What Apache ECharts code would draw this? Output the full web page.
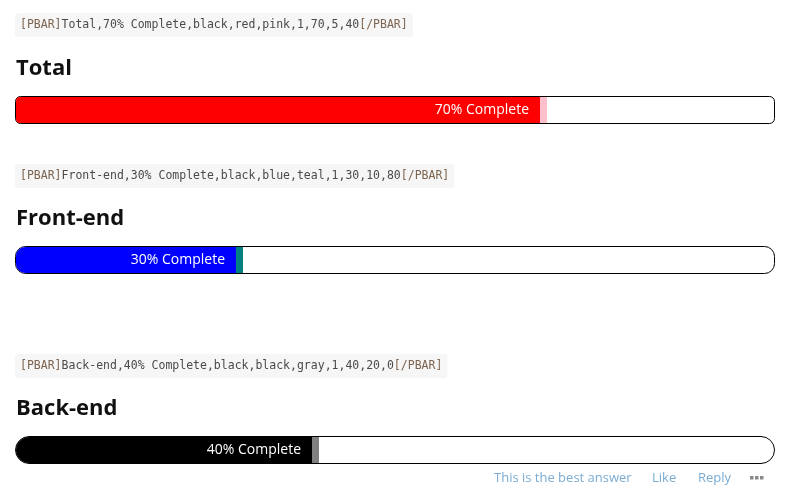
<!DOCTYPE html>
<html><head><meta charset="utf-8">
<script src="https://cdn.jsdelivr.net/npm/echarts@6/dist/echarts.min.js"></script>
<style>html,body{margin:0;padding:0;background:#fff}#c{width:789px;height:497px}</style>
</head><body><div id="c"></div>
<script>
const barNames = ['Total', 'Front-end', 'Back-end'];
const codeTexts = [
  '[PBAR]Total,70% Complete,black,red,pink,1,70,5,40[/PBAR]',
  '[PBAR]Front-end,30% Complete,black,blue,teal,1,30,10,80[/PBAR]',
  '[PBAR]Back-end,40% Complete,black,black,gray,1,40,20,0[/PBAR]'
];
const percents = [70, 30, 40];
const barLabels = ['70% Complete', '30% Complete', '40% Complete'];
const fillColors = ['red', 'blue', 'black'];
const capColors = ['pink', 'teal', 'gray'];
const cornerRadii = [5, 10, 20];
const footerLinks = ['This is the best answer', 'Like', 'Reply'];

const gridTops = [96, 246, 436];
const codeTops = [13, 164, 354];
const headTops = [58, 208, 398];
const CAP = 7;

const chart = echarts.init(document.getElementById('c'), null, {renderer: 'canvas'});

function codeRich(s) {
  const m = s.match(/^(\[PBAR\])(.*)(\[\/PBAR\])$/);
  return '{t|' + m[1] + '}{b|' + m[2] + '}{t|' + m[3] + '}';
}
const codeStyle = {fontFamily: 'DejaVu Sans Mono', fontSize: 11.5, fontWeight: 'normal'};

const titles = [];
barNames.forEach((n, i) => {
  titles.push({
    text: codeRich(codeTexts[i]), left: 15, top: codeTops[i],
    backgroundColor: '#f6f6f6', borderRadius: 3, padding: [6, 5, 6, 5],
    textStyle: {fontWeight: 'normal', rich: {
      t: Object.assign({color: '#7d6450'}, codeStyle),
      b: Object.assign({color: '#4a4a4a'}, codeStyle)
    }}
  });
  titles.push({
    text: n, left: 16, top: headTops[i], padding: 0,
    textStyle: {fontFamily: 'Open Sans', fontWeight: 'bold', fontSize: 22, color: '#111'}
  });
});

const grids = [], xAxes = [], yAxes = [], series = [];
barNames.forEach((n, i) => {
  grids.push({left: 15, right: 14, top: gridTops[i], height: 28});
  xAxes.push({type: 'value', min: 0, max: 100, gridIndex: i, show: false});
  yAxes.push({type: 'category', data: [n], gridIndex: i, show: false});
  series.push({
    type: 'custom', xAxisIndex: i, yAxisIndex: i,
    data: [[percents[i], 0]],
    renderItem: function (params, api) {
      const x0 = api.coord([0, 0])[0];
      const x100 = api.coord([100, 0])[0];
      const xv = api.coord([api.value(0), 0])[0];
      const yc = api.coord([0, 0])[1];
      const h = api.size([0, 1])[1];
      const top = yc - h / 2;
      const r = Math.min(cornerRadii[i], h / 2);
      const ri = Math.max(r - 1, 0);
      return {
        type: 'group',
        children: [
          {type: 'rect', shape: {x: x0 + 0.5, y: top + 0.5, width: x100 - x0 - 1, height: h - 1, r: r},
           style: {fill: '#fff', stroke: '#000', lineWidth: 1}},
          {type: 'rect', shape: {x: x0 + 1, y: top + 1, width: xv - x0 - 1 - CAP, height: h - 2, r: [ri, 0, 0, ri]},
           style: {fill: fillColors[i]}},
          {type: 'rect', shape: {x: xv - CAP, y: top + 1, width: CAP, height: h - 2},
           style: {fill: capColors[i]}},
          {type: 'text', x: xv - CAP - 11, y: yc,
           style: {text: barLabels[i], fill: '#fff', align: 'right', verticalAlign: 'middle',
                   font: '14px "Open Sans"'}}
        ]
      };
    }
  });
});

const footerX = [494, 652, 698];
const graphic = footerLinks.map((t, i) => ({
  type: 'text', left: footerX[i], top: 472,
  style: {text: t, fill: '#7aacd3', font: '13px "Open Sans"'}
}));
[750, 755, 760].forEach(x => graphic.push({
  type: 'rect', shape: {x: x, y: 476, width: 3.5, height: 3.5}, style: {fill: '#8a8a8a'}
}));

chart.setOption({
  animation: false,
  title: titles,
  grid: grids, xAxis: xAxes, yAxis: yAxes, series: series,
  graphic: graphic
});
</script></body></html>
